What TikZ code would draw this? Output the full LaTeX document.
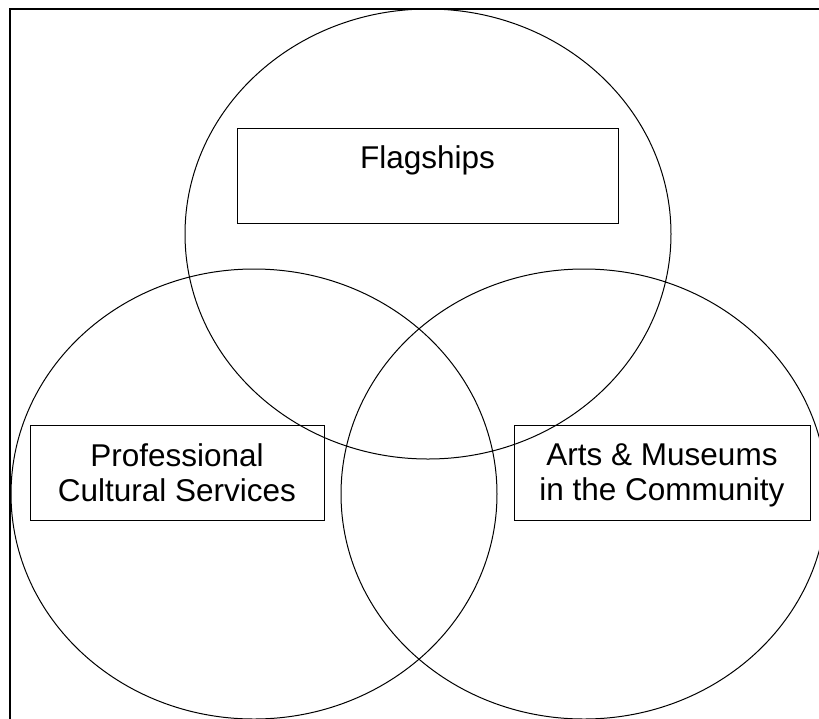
\documentclass[tikz,border=0pt]{standalone}
\usepackage{fontspec}
\setmainfont{Liberation Sans}
\usetikzlibrary{shapes.geometric}
\newcommand\linestrut{\rule[-6.5pt]{0pt}{35pt}}
\tikzset{
  venn/.style={ellipse, draw, line width=1pt, minimum width=486pt, minimum height=450pt, inner sep=0pt},
  labelbox/.style={rectangle, draw, line width=1pt, align=center, inner sep=0pt,
    font=\fontsize{31.5}{35}\selectfont, minimum height=95pt},
  frame/.style={line width=1.5pt}
}
\begin{document}
\begin{tikzpicture}[x=1pt,y=-1pt]
\clip (0,0) rectangle (819,718);
\fill[white] (0,0) rectangle (819,718);
\coordinate (tl) at (10,9);
\coordinate (br) at (840,740);
\draw[frame] (tl) rectangle (br);
\node[venn] (top) at (428,234) {};
\node[venn] (left) at (254,494) {};
\node[venn] (right) at (584,494) {};
\node[labelbox, minimum width=381pt] (flag) at (427.5,176) {\linestrut Flagships\\\linestrut};
\node[labelbox, minimum width=294pt] (prof) at (177,472.5) {\linestrut Professional\\\linestrut Cultural Services};
\node[labelbox, minimum width=296pt] (arts) at (662,472.5) {\linestrut Arts \& Museums\\\linestrut in the Community};
\end{tikzpicture}
\end{document}
